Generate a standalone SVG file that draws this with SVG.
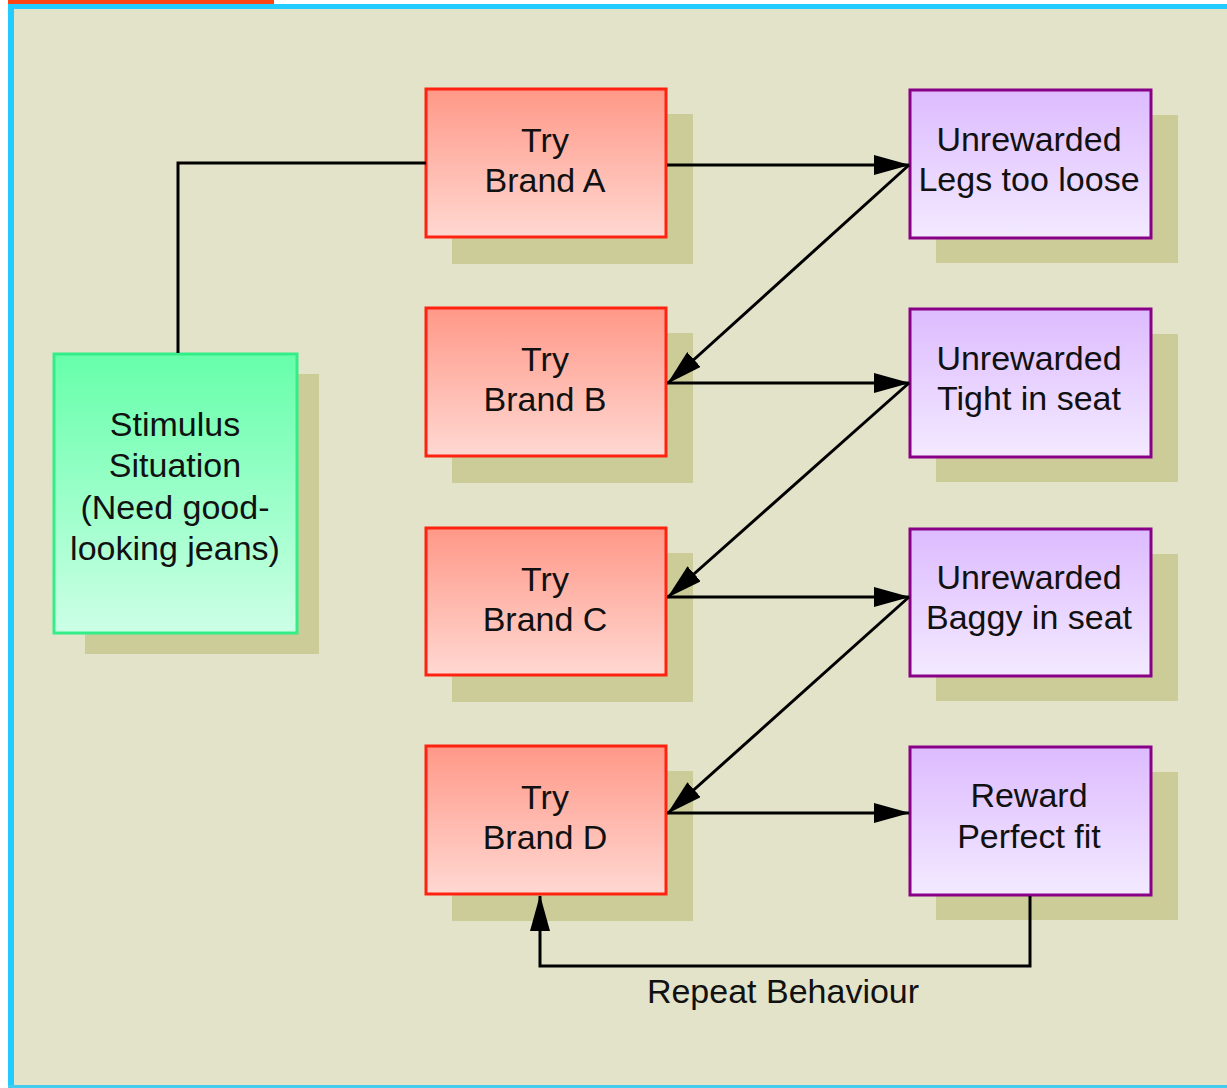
<svg xmlns="http://www.w3.org/2000/svg" width="1227" height="1088" viewBox="0 0 1227 1088">
  <style>
    .t { font-family: "Liberation Sans", Arial, sans-serif; font-size: 34px; fill: #111; text-anchor: middle; }
    .shadow { fill: #CCCC99; }
    .red { fill: url(#gRed); stroke: #FF2211; stroke-width: 3; }
    .grn { fill: url(#gGrn); stroke: #33EE88; stroke-width: 3; }
    .pur { fill: url(#gPur); stroke: #880088; stroke-width: 3; }
    .conn { fill: none; stroke: #000; stroke-width: 3; }
  </style>
  <defs>
    <linearGradient id="gRed" x1="0" y1="0" x2="0" y2="1">
      <stop offset="0" stop-color="#FF9888"/>
      <stop offset="1" stop-color="#FFD8D2"/>
    </linearGradient>
    <linearGradient id="gGrn" x1="0" y1="0" x2="0" y2="1">
      <stop offset="0" stop-color="#66FFAA"/>
      <stop offset="1" stop-color="#CCFFE6"/>
    </linearGradient>
    <linearGradient id="gPur" x1="0" y1="0" x2="0" y2="1">
      <stop offset="0" stop-color="#DDBBFF"/>
      <stop offset="1" stop-color="#F3EAFF"/>
    </linearGradient>
    <marker id="arr" viewBox="0 0 36 20" refX="35" refY="10" markerWidth="36" markerHeight="20" orient="auto" markerUnits="userSpaceOnUse">
      <path d="M0,0 L36,10 L0,20 z" fill="#000"/>
    </marker>
  </defs>

  <rect x="0" y="0" width="1227" height="1088" fill="#FFFFFF"/>
  <rect x="8" y="4" width="1219" height="1084" fill="#E3E3C9"/>
  <rect x="8" y="4" width="6" height="1084" fill="#22CCFF"/>
  <rect x="8" y="4" width="1219" height="5" fill="#22CCFF"/>
  <rect x="8" y="1085" width="1219" height="3" fill="#44CCEE"/>
  <rect x="8" y="0" width="266" height="4" fill="#FF4411"/>

  <g id="stimulus">
    <rect class="shadow" x="85" y="374" width="234" height="280"/>
    <rect class="grn" x="54" y="354" width="243" height="279"/>
    <text class="t" x="175" y="436">Stimulus</text>
    <text class="t" x="175" y="477">Situation</text>
    <text class="t" x="175" y="519">(Need good-</text>
    <text class="t" x="175" y="560">looking jeans)</text>
  </g>

  <g id="brandA">
    <rect class="shadow" x="452" y="114" width="241" height="150"/>
    <rect class="red" x="426" y="89" width="240" height="148"/>
    <text class="t" x="545" y="152">Try</text>
    <text class="t" x="545" y="192">Brand A</text>
  </g>
  <g id="brandB">
    <rect class="shadow" x="452" y="333" width="241" height="150"/>
    <rect class="red" x="426" y="308" width="240" height="148"/>
    <text class="t" x="545" y="371">Try</text>
    <text class="t" x="545" y="411">Brand B</text>
  </g>
  <g id="brandC">
    <rect class="shadow" x="452" y="553" width="241" height="149"/>
    <rect class="red" x="426" y="528" width="240" height="147"/>
    <text class="t" x="545" y="591">Try</text>
    <text class="t" x="545" y="631">Brand C</text>
  </g>
  <g id="brandD">
    <rect class="shadow" x="452" y="771" width="241" height="150"/>
    <rect class="red" x="426" y="746" width="240" height="148"/>
    <text class="t" x="545" y="809">Try</text>
    <text class="t" x="545" y="849">Brand D</text>
  </g>

  <g id="legsLoose">
    <rect class="shadow" x="936" y="115" width="242" height="148"/>
    <rect class="pur" x="910" y="90" width="241" height="148"/>
    <text class="t" x="1029" y="151">Unrewarded</text>
    <text class="t" x="1029" y="191">Legs too loose</text>
  </g>
  <g id="tightSeat">
    <rect class="shadow" x="936" y="334" width="242" height="148"/>
    <rect class="pur" x="910" y="309" width="241" height="148"/>
    <text class="t" x="1029" y="370">Unrewarded</text>
    <text class="t" x="1029" y="410">Tight in seat</text>
  </g>
  <g id="baggySeat">
    <rect class="shadow" x="936" y="554" width="242" height="147"/>
    <rect class="pur" x="910" y="529" width="241" height="147"/>
    <text class="t" x="1029" y="589">Unrewarded</text>
    <text class="t" x="1029" y="629">Baggy in seat</text>
  </g>
  <g id="reward">
    <rect class="shadow" x="936" y="772" width="242" height="148"/>
    <rect class="pur" x="910" y="747" width="241" height="148"/>
    <text class="t" x="1029" y="807">Reward</text>
    <text class="t" x="1029" y="848">Perfect fit</text>
  </g>

  <g id="connectors">
    <polyline class="conn" points="178,353 178,163 426,163"/>
    <line class="conn" x1="667" y1="165" x2="909" y2="165" marker-end="url(#arr)"/>
    <line class="conn" x1="909" y1="165" x2="668" y2="383" marker-end="url(#arr)"/>
    <line class="conn" x1="667" y1="383" x2="909" y2="383" marker-end="url(#arr)"/>
    <line class="conn" x1="909" y1="383" x2="668" y2="597" marker-end="url(#arr)"/>
    <line class="conn" x1="667" y1="597" x2="909" y2="597" marker-end="url(#arr)"/>
    <line class="conn" x1="909" y1="597" x2="668" y2="813" marker-end="url(#arr)"/>
    <line class="conn" x1="667" y1="813" x2="909" y2="813" marker-end="url(#arr)"/>
    <polyline class="conn" points="1030,896 1030,966 540,966 540,896" marker-end="url(#arr)"/>
    <text class="t" x="783" y="1003">Repeat Behaviour</text>
  </g>
</svg>
